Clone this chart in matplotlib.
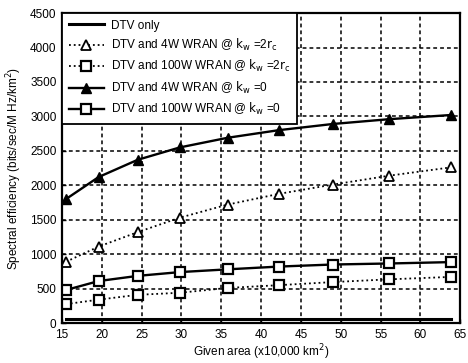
import matplotlib.pyplot as plt
import numpy as np

# given area (x10,000 km^2) for each ring
area = [15.5, 19.6, 24.5, 29.8, 35.8, 42.2, 49.0, 56.1, 63.8]

# spectral efficiency (bits/sec/MHz/km^2)
dtv_only = [65, 65, 65, 65, 65, 65, 65, 65, 65]
wran4_2rc = [890, 1110, 1320, 1530, 1720, 1875, 2010, 2140, 2260]
wran100_2rc = [275, 340, 410, 440, 510, 550, 595, 635, 670]
wran4_0 = [1800, 2120, 2370, 2550, 2690, 2800, 2890, 2960, 3020]
wran100_0 = [480, 610, 685, 740, 780, 820, 850, 865, 885]

labels = ['DTV only',
          r'DTV and 4W WRAN @ $k_w$ =2$r_c$',
          r'DTV and 100W WRAN @ $k_w$ =2$r_c$',
          r'DTV and 4W WRAN @ $k_w$ =0',
          r'DTV and 100W WRAN @ $k_w$ =0']

plt.rcParams['font.family'] = ['Liberation Sans Narrow', 'Liberation Sans', 'DejaVu Sans']
plt.rcParams['mathtext.fontset'] = 'custom'
plt.rcParams['mathtext.rm'] = 'Liberation Sans Narrow'
plt.rcParams['mathtext.it'] = 'Liberation Sans Narrow'

fig = plt.figure(figsize=(4.68, 3.63), dpi=100)
ax = fig.add_axes([0.1325, 0.110, 0.851, 0.854])

ax.plot(area, dtv_only, color='black', lw=2.2, label=labels[0])
ax.plot(area, wran4_2rc, color='black', lw=1.3, ls=':', marker='^',
        mfc='white', mec='black', ms=6.5, mew=1.3, label=labels[1])
ax.plot(area, wran100_2rc, color='black', lw=1.3, ls=':', marker='s',
        mfc='white', mec='black', ms=6.5, mew=1.6, label=labels[2])
ax.plot(area, wran4_0, color='black', lw=1.7, marker='^',
        mfc='black', mec='black', ms=6.5, label=labels[3])
ax.plot(area, wran100_0, color='black', lw=1.7, marker='s',
        mfc='white', mec='black', ms=6.5, mew=1.6, label=labels[4])

ax.set_xlim(15, 65)
ax.set_ylim(0, 4500)
ax.set_xticks(np.arange(15, 66, 5))
ax.set_yticks(np.arange(0, 4501, 500))
ax.grid(True, color='black', ls=(0, (2.5, 2.0)), lw=1.1)
ax.tick_params(labelsize=8.5, direction='in', length=3, width=1, pad=4)
for s in ax.spines.values():
    s.set_linewidth(1.6)

ax.set_xlabel('Given area (x10,000 km$^2$)', fontsize=8.5, labelpad=1)
ax.set_ylabel('Spectral efficiency (bits/sec/M Hz/km$^2$)', fontsize=8.5, labelpad=4)

leg = ax.legend(loc='upper left', fontsize=8.5, frameon=True, fancybox=False,
                edgecolor='black', framealpha=1, borderaxespad=0,
                handlelength=3.0, handletextpad=0.6, labelspacing=0.45,
                borderpad=0.55)
leg.get_frame().set_linewidth(1.3)

plt.savefig('out.png', dpi=100)
